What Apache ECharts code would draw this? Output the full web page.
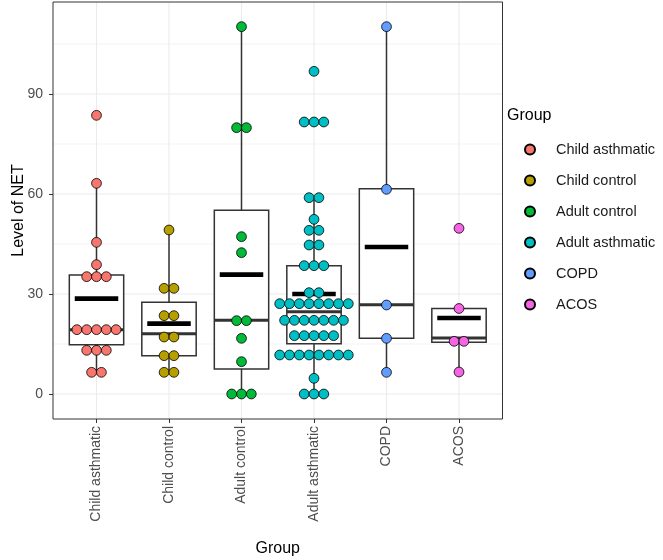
<!DOCTYPE html>
<html>
<head>
<meta charset="utf-8">
<script src="https://cdn.jsdelivr.net/npm/echarts@6/dist/echarts.min.js"></script>
<style>
html,body{margin:0;padding:0;background:#fff;}
#chart{width:663px;height:560px;}
</style>
</head>
<body>
<div id="chart"></div>
<script>
// ---- Data ----
const categories = ['Child asthmatic', 'Child control', 'Adult control', 'Adult asthmatic', 'COPD', 'ACOS'];
const groupColors = ['#F8766D', '#B79F00', '#00BA38', '#00BFC4', '#619CFF', '#F564E3'];
const yTicks = [0, 30, 60, 90];
const yMinorTicks = [15, 45, 75, 105];

// dot values (binned as shown in the dot plot)
const childAsthmatic = [83.6, 63.2, 45.5, 38.8, 35.2, 35.2, 35.2, 19.3, 19.3, 19.3, 19.3, 19.3, 13.1, 13.1, 13.1, 6.5, 6.5];
const childControl = [49.2, 31.7, 31.7, 23.5, 23.5, 17.1, 17.1, 11.5, 11.5, 6.5, 6.5];
const adultControl = [110.2, 79.9, 79.9, 47.2, 42.4, 22.0, 22.0, 16.7, 9.7, 0, 0, 0];
const adultAsthmatic = [96.8, 81.6, 81.6, 81.6, 58.9, 58.9, 52.4, 49.1, 49.1, 44.7, 44.7, 38.5, 38.5, 38.5,
  30.4, 30.4, 27.1, 27.1, 27.1, 27.1, 27.1, 27.1, 27.1, 27.1, 22.1, 22.1, 22.1, 22.1, 22.1, 22.1, 22.1,
  17.5, 17.5, 17.5, 17.5, 17.5, 11.7, 11.7, 11.7, 11.7, 11.7, 11.7, 11.7, 11.7, 4.7, 0, 0, 0];
const copd = [110.2, 61.4, 26.7, 16.7, 6.5];
const acos = [49.7, 25.65, 15.8, 15.8, 6.6];
const dotValues = [childAsthmatic, childControl, adultControl, adultAsthmatic, copd, acos];

// box stats: [lower whisker, Q1, median, Q3, upper whisker]
const boxStats = [
  [6.5, 14.8, 19.3, 35.7, 63.2],
  [6.5, 11.5, 18.1, 27.5, 49.2],
  [0, 7.5, 22.1, 55.1, 110.2],
  [0, 15.1, 24.7, 38.5, 58.9],
  [6.5, 16.7, 26.8, 61.6, 110.2],
  [6.6, 15.5, 16.8, 25.65, 25.65]
];
const groupMeans = [28.6, 21.1, 35.8, 30.0, 44.1, 22.8];

// ---- Build chart ----
const FONT = "'Liberation Sans', Arial, sans-serif";
const X_MIN = 0.4, X_MAX = 6.6;
const Y_MIN = -7.5, Y_MAX = 117.6;
const catPos = categories.map((c, i) => i + 1);
const DOT = 9.8;

const gridData = [];
yTicks.forEach(v => gridData.push([0, v, 1.1]));
yMinorTicks.forEach(v => gridData.push([0, v, 0.6]));
catPos.forEach(v => gridData.push([1, v, 1.1]));

const gridSeries = {
  type: 'custom', silent: true, z: 0, clip: true,
  data: gridData,
  renderItem: function (params, api) {
    const t = api.value(0), v = api.value(1), w = api.value(2);
    let p1, p2;
    if (t === 0) { p1 = api.coord([X_MIN, v]); p2 = api.coord([X_MAX, v]); }
    else { p1 = api.coord([v, Y_MIN]); p2 = api.coord([v, Y_MAX]); }
    return { type: 'line', shape: { x1: p1[0], y1: p1[1], x2: p2[0], y2: p2[1] },
      style: { stroke: '#ebebeb', lineWidth: w } };
  }
};

const boxSeries = {
  type: 'custom', silent: true, z: 2,
  data: boxStats.map((s, i) => [catPos[i], s[0], s[1], s[2], s[3], s[4], groupMeans[i]]),
  renderItem: function (params, api) {
    const cx = api.value(0);
    const bw = api.size([1, 0])[0];
    const c = api.coord([cx, 0])[0];
    const y = k => api.coord([cx, api.value(k)])[1];
    const yLo = y(1), yQ1 = y(2), yMed = y(3), yQ3 = y(4), yHi = y(5), yMean = y(6);
    const half = bw * 0.375, mh = bw * 0.3;
    const stroke = '#333333';
    return {
      type: 'group',
      children: [
        { type: 'line', shape: { x1: c, y1: yQ3, x2: c, y2: yHi }, style: { stroke: stroke, lineWidth: 1.5 } },
        { type: 'line', shape: { x1: c, y1: yQ1, x2: c, y2: yLo }, style: { stroke: stroke, lineWidth: 1.5 } },
        { type: 'rect', shape: { x: c - half, y: yQ3, width: 2 * half, height: yQ1 - yQ3 },
          style: { fill: '#ffffff', stroke: stroke, lineWidth: 1.5 } },
        { type: 'line', shape: { x1: c - half, y1: yMed, x2: c + half, y2: yMed }, style: { stroke: stroke, lineWidth: 3 } },
        { type: 'rect', shape: { x: c - mh, y: yMean - 2.3, width: 2 * mh, height: 4.6 }, style: { fill: '#000000' } }
      ]
    };
  }
};

const dotSeries = categories.map((name, gi) => {
  const vals = dotValues[gi];
  const counts = {};
  vals.forEach(v => { counts[v] = (counts[v] || 0) + 1; });
  const seen = {};
  const data = vals.map(v => {
    const n = counts[v];
    const k = seen[v] || 0; seen[v] = k + 1;
    return { value: [catPos[gi], v], symbolOffset: [(k - (n - 1) / 2) * DOT, 0] };
  });
  return {
    name: name, type: 'scatter', z: 3, symbol: 'circle', symbolSize: DOT,
    itemStyle: { color: groupColors[gi], borderColor: '#000000', borderWidth: 0.8, opacity: 1 },
    emphasis: { disabled: true },
    data: data
  };
});

const chart = echarts.init(document.getElementById('chart'), null, { renderer: 'canvas' });
chart.setOption({
  animation: false,
  backgroundColor: '#ffffff',
  textStyle: { fontFamily: FONT },
  grid: { left: 53, right: 160.5, top: 2, bottom: 141, show: true, borderColor: '#333333', borderWidth: 1,
    backgroundColor: 'transparent', z: 10, containLabel: false, outerBoundsMode: 'none' },
  xAxis: {
    type: 'value', min: X_MIN, max: X_MAX,
    axisLine: { show: false, onZero: false },
    splitLine: { show: false },
    axisTick: { show: true, customValues: catPos, length: 4, lineStyle: { color: '#333333', width: 1 } },
    axisLabel: { customValues: catPos, rotate: 90, margin: 7, color: '#4d4d4d', fontSize: 14, fontFamily: FONT,
      formatter: v => categories[Math.round(v) - 1] },
    name: 'Group', nameLocation: 'middle', nameGap: 122,
    nameTextStyle: { color: '#000000', fontSize: 16, fontFamily: FONT }
  },
  yAxis: {
    type: 'value', min: Y_MIN, max: Y_MAX,
    axisLine: { show: false, onZero: false },
    splitLine: { show: false },
    axisTick: { show: true, customValues: yTicks, length: 4, lineStyle: { color: '#333333', width: 1 } },
    axisLabel: { customValues: yTicks, margin: 10, color: '#4d4d4d', fontSize: 14, fontFamily: FONT },
    name: 'Level of NET', nameLocation: 'middle', nameGap: 26, nameRotate: 90, nameMoveOverlap: false,
    nameTextStyle: { color: '#000000', fontSize: 16, fontFamily: FONT }
  },
  legend: {
    data: categories,
    orient: 'vertical', left: 519, top: 137,
    itemWidth: 10, itemHeight: 10, itemGap: 16,
    icon: 'circle',
    selectedMode: false,
    textStyle: { color: '#1a1a1a', fontSize: 14.5, fontFamily: FONT, padding: [0, 0, 0, 16], lineHeight: 14 }
  },
  graphic: [{
    type: 'text', left: 507, top: 108,
    style: { text: 'Group', fill: '#000000', font: '16px ' + FONT }
  }],
  series: [gridSeries, boxSeries].concat(dotSeries)
});
</script>
</body>
</html>
